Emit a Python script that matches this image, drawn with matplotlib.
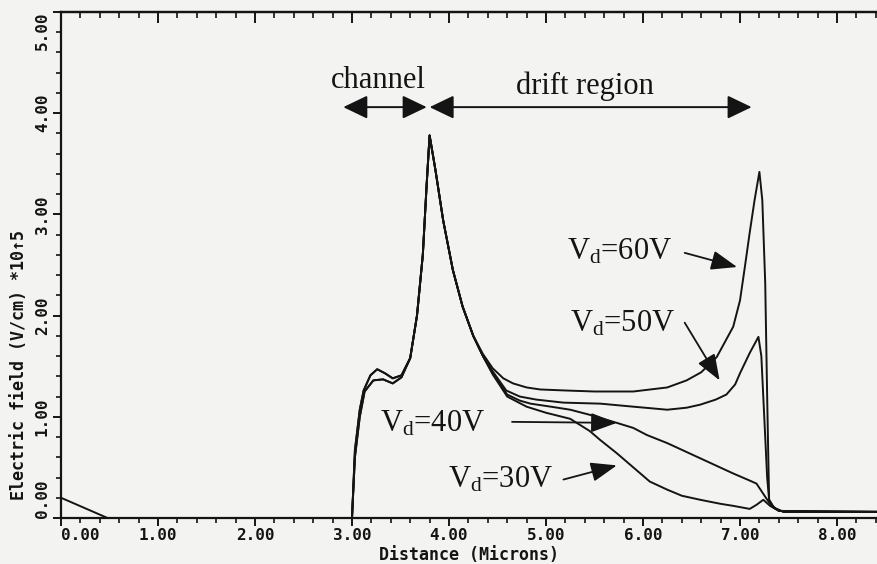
import matplotlib
matplotlib.use("Agg")
import matplotlib.pyplot as plt
from matplotlib.ticker import MultipleLocator, FixedLocator
from matplotlib.patches import ArrowStyle

plt.rcParams["mathtext.fontset"] = "custom"
plt.rcParams["mathtext.rm"] = "Liberation Serif"
plt.rcParams["mathtext.it"] = "Liberation Serif:italic"

# Field along the device (x in microns, E in 1e5 V/cm)
x_lead = [0.0, 0.48, 3.0]
e_lead = [0.20, 0.0, 0.0]

x_60 = [3.00, 3.03, 3.08, 3.12, 3.19, 3.26, 3.34, 3.42, 3.51, 3.60, 3.67, 3.73, 3.77, 3.80,
        3.86, 3.94, 4.04, 4.14, 4.25, 4.35, 4.45, 4.56, 4.66, 4.80, 4.94, 5.20, 5.50, 5.90,
        6.25, 6.45, 6.60, 6.76, 6.93, 7.00, 7.05, 7.10, 7.15, 7.20, 7.23, 7.26, 7.28, 7.30,
        7.35, 7.45, 8.60]
e_60 = [0.00, 0.67, 1.07, 1.26, 1.41, 1.47, 1.43, 1.38, 1.41, 1.58, 2.00, 2.60, 3.30, 3.78,
        3.44, 2.94, 2.45, 2.09, 1.80, 1.62, 1.48, 1.38, 1.33, 1.29, 1.27, 1.26, 1.25, 1.25,
        1.29, 1.36, 1.44, 1.59, 1.89, 2.15, 2.48, 2.82, 3.14, 3.42, 3.14, 2.32, 1.20, 0.18,
        0.10, 0.06, 0.06]

x_50 = [3.00, 3.03, 3.08, 3.12, 3.19, 3.26, 3.34, 3.42, 3.51, 3.60, 3.67, 3.73, 3.77, 3.80,
        3.86, 3.94, 4.04, 4.14, 4.25, 4.35, 4.45, 4.59, 4.73, 4.90, 5.18, 5.56, 5.90, 6.25,
        6.45, 6.59, 6.75, 6.86, 6.95, 7.00, 7.10, 7.19, 7.22, 7.25, 7.28, 7.30, 7.35, 7.45,
        8.60]
e_50 = [0.00, 0.67, 1.07, 1.26, 1.41, 1.47, 1.43, 1.38, 1.41, 1.58, 2.00, 2.60, 3.30, 3.78,
        3.44, 2.94, 2.45, 2.09, 1.80, 1.60, 1.45, 1.26, 1.20, 1.17, 1.14, 1.13, 1.10, 1.07,
        1.09, 1.12, 1.17, 1.22, 1.32, 1.43, 1.63, 1.79, 1.60, 1.00, 0.40, 0.18, 0.10, 0.06,
        0.06]

x_40 = [3.00, 3.03, 3.08, 3.13, 3.22, 3.32, 3.42, 3.51, 3.60, 3.67, 3.73, 3.77, 3.80,
        3.86, 3.94, 4.04, 4.14, 4.25, 4.35, 4.45, 4.60, 4.73, 4.84, 5.05, 5.25, 5.45, 5.73,
        5.90, 6.04, 6.25, 6.59, 6.93, 7.10, 7.17, 7.26, 7.31, 7.40, 8.60]
e_40 = [0.00, 0.60, 1.00, 1.25, 1.36, 1.37, 1.33, 1.39, 1.58, 2.00, 2.60, 3.30, 3.78,
        3.44, 2.94, 2.45, 2.09, 1.80, 1.60, 1.43, 1.22, 1.16, 1.13, 1.10, 1.07, 1.02, 0.94,
        0.89, 0.82, 0.74, 0.59, 0.44, 0.37, 0.34, 0.21, 0.14, 0.07, 0.06]

x_30 = [3.00, 3.03, 3.08, 3.13, 3.22, 3.32, 3.42, 3.51, 3.60, 3.67, 3.73, 3.77, 3.80,
        3.86, 3.94, 4.04, 4.14, 4.25, 4.35, 4.45, 4.60, 4.80, 5.00, 5.25, 5.45, 5.56, 5.73,
        5.90, 6.07, 6.25, 6.40, 6.59, 6.80, 6.93, 7.10, 7.17, 7.24, 7.31, 7.40, 8.60]
e_30 = [0.00, 0.60, 1.00, 1.25, 1.36, 1.37, 1.33, 1.39, 1.58, 2.00, 2.60, 3.30, 3.78,
        3.44, 2.94, 2.45, 2.09, 1.80, 1.60, 1.42, 1.20, 1.10, 1.04, 0.98, 0.86, 0.77, 0.64,
        0.50, 0.36, 0.28, 0.22, 0.18, 0.14, 0.12, 0.09, 0.13, 0.18, 0.12, 0.07, 0.06]

x_ticks = [0, 1, 2, 3, 4, 5, 6, 7, 8]
y_ticks = [0, 1, 2, 3, 4, 5]
x_ticklabels = ["0.00", "1.00", "2.00", "3.00", "4.00", "5.00", "6.00", "7.00", "8.00"]
y_ticklabels = ["0.00", "1.00", "2.00", "3.00", "4.00", "5.00"]

W, H = 877, 564
fig = plt.figure(figsize=(W / 100, H / 100), dpi=100)
bg = "#f3f3f1"
fig.patch.set_facecolor(bg)

x0, y_bot, y_top = 61, 518, 12
ax = fig.add_axes([x0 / W, (H - y_bot) / H, (W - x0) / W, (y_bot - y_top) / H])
ax.set_facecolor(bg)
ax.set_xlim(0, (W - x0) / 97.0)
ax.set_ylim(0, 5.0)

ink = "#141414"
lw = 1.4
ax.plot(x_lead, e_lead, color=ink, lw=lw)
for xs, es in [(x_30, e_30), (x_40, e_40), (x_50, e_50), (x_60, e_60)]:
    ax.plot(xs, es, color=ink, lw=lw, solid_joinstyle="round")

for side in ("left", "bottom", "top"):
    ax.spines[side].set_linewidth(1.6)
    ax.spines[side].set_color(ink)
ax.spines["right"].set_visible(False)

mono = "DejaVu Sans Mono"
ax.xaxis.set_major_locator(FixedLocator(x_ticks))
ax.xaxis.set_minor_locator(MultipleLocator(0.2))
ax.yaxis.set_major_locator(FixedLocator(y_ticks))
ax.yaxis.set_minor_locator(MultipleLocator(0.2))
ax.set_xticklabels(x_ticklabels, family=mono, fontsize=11.5, fontweight="bold")
ax.set_yticklabels(y_ticklabels, family=mono, fontsize=11.5, fontweight="bold",
                   rotation=90, va="center")
ax.tick_params(axis="both", which="major", direction="out", length=6, width=1.4, color=ink,
               labelcolor=ink)
ax.tick_params(axis="both", which="minor", direction="out", length=3.5, width=1.2, color=ink)
ax.tick_params(axis="x", pad=1)
ax.tick_params(axis="y", pad=2)
xl = ax.get_xticklabels()
xl[0].set_ha("left")
yl = ax.get_yticklabels()
yl[0].set_va("bottom")
yl[-1].set_va("top")

top = ax.secondary_xaxis("top")
top.xaxis.set_major_locator(FixedLocator(x_ticks))
top.xaxis.set_minor_locator(MultipleLocator(0.2))
top.tick_params(which="major", direction="in", length=8, width=1.4, color=ink, labeltop=False)
top.tick_params(which="minor", direction="in", length=4, width=1.2, color=ink)
top.spines["top"].set_linewidth(1.6)

fig.text(469 / W, 0.5 / H, "Distance (Microns)", family=mono, fontsize=12,
         fontweight="bold", color=ink, ha="center", va="bottom")
fig.text(19 / W, 1 - 365 / H, "Electric field (V/cm) *10\u21915", family=mono, fontsize=12,
         fontweight="bold", color=ink, ha="center", va="center", rotation=90)

serif = "Liberation Serif"
ax.text(3.27, 4.25, "channel", family=serif, fontsize=22, ha="center", va="baseline", color=ink)
ax.text(5.40, 4.19, "drift region", family=serif, fontsize=22, ha="center", va="baseline", color=ink)

double = ArrowStyle("<|-|>", head_length=0.75, head_width=0.36)
ax.annotate("", xy=(3.77, 4.06), xytext=(2.91, 4.06),
            arrowprops=dict(arrowstyle=double, mutation_scale=20, color=ink, lw=1.4,
                            shrinkA=0, shrinkB=0))
ax.annotate("", xy=(7.12, 4.06), xytext=(3.80, 4.06),
            arrowprops=dict(arrowstyle=double, mutation_scale=20, color=ink, lw=1.4,
                            shrinkA=0, shrinkB=0))

single = ArrowStyle("-|>", head_length=0.8, head_width=0.3)
labels = [
    ("V$_\\mathrm{d}$=60V", (5.22, 2.55), (6.43, 2.62), (6.97, 2.48)),
    ("V$_\\mathrm{d}$=50V", (5.25, 1.84), (6.43, 1.93), (6.79, 1.36)),
    ("V$_\\mathrm{d}$=40V", (3.29, 0.85), (4.65, 0.95), (5.73, 0.94)),
    ("V$_\\mathrm{d}$=30V", (3.99, 0.30), (5.18, 0.38), (5.73, 0.52)),
]
for txt, pos, start, tip in labels:
    ax.text(pos[0], pos[1], txt, family=serif, fontsize=22, ha="left", va="baseline",
            color=ink)
    ax.annotate("", xy=tip, xytext=start,
                arrowprops=dict(arrowstyle=single, mutation_scale=20, color=ink, lw=1.3,
                                shrinkA=0, shrinkB=0))

fig.savefig("out.png", dpi=100, facecolor=bg)
